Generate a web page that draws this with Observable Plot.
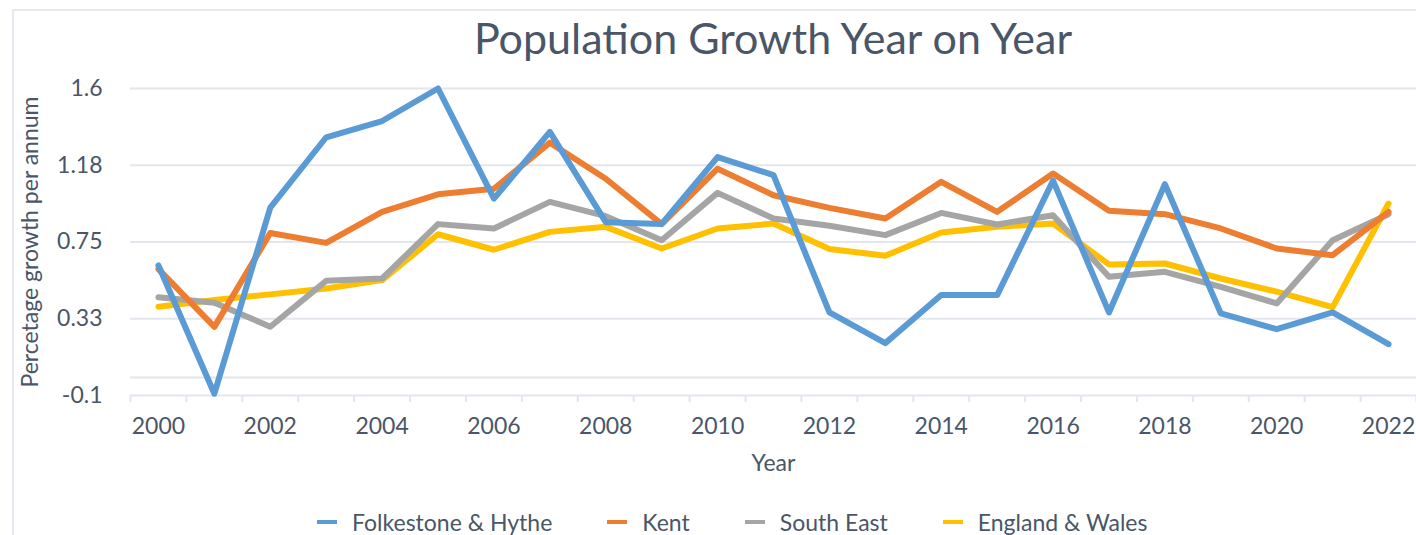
<!DOCTYPE html>
<html>
<head>
<meta charset="utf-8">
<script src="https://cdn.jsdelivr.net/npm/d3@7"></script>
<script src="https://cdn.jsdelivr.net/npm/@observablehq/plot@0.6"></script>
<style>
  html, body { margin: 0; padding: 0; background: #fff; }
  body { width: 1416px; height: 535px; overflow: hidden; font-family: Lato, "Noto Sans", sans-serif; }
  #wrap { position: relative; width: 1416px; height: 535px; }
  #frame { position: absolute; left: 12px; top: 9px; right: -2px; bottom: -2px; border-left: 2px solid #e6e9ef; border-top: 2px solid #e6e9ef; }
  #title { position: absolute; left: 130px; right: 0; top: 11px; text-align: center; font-size: 43px; color: #4a5668; line-height: 54px; }
  #legend { position: absolute; left: 317px; top: 507px; display: flex; align-items: center; font-size: 23px; color: #4a5668; line-height: 30px; }
  .item { display: flex; align-items: center; margin-right: 55px; }
  .sw { width: 20px; height: 4px; margin-right: 15px; }
  #chart { position: absolute; left: 0; top: 0; }
</style>
</head>
<body>
<div id="wrap">
  <div id="frame"></div>
  <div id="chart"></div>
  <div id="title">Population Growth Year on Year</div>
  <div id="legend"></div>
</div>
<script>
const years = [2000,2001,2002,2003,2004,2005,2006,2007,2008,2009,2010,2011,2012,2013,2014,2015,2016,2017,2018,2019,2020,2021,2022];
const seriesNames = ["Folkestone & Hythe", "Kent", "South East", "England & Wales"];
const colors = ["#5b9bd5", "#ed7d31", "#a5a5a5", "#ffc000"];

const folkestone = [0.62,-0.09,0.94,1.33,1.42,1.60,0.99,1.36,0.86,0.85,1.22,1.12,0.36,0.19,0.456,0.456,1.09,0.36,1.07,0.355,0.267,0.36,0.184];
const kent       = [0.60,0.28,0.80,0.745,0.917,1.014,1.045,1.30,1.10,0.849,1.156,1.009,0.939,0.88,1.083,0.917,1.129,0.923,0.904,0.825,0.714,0.677,0.917];
const southEast  = [0.444,0.414,0.281,0.535,0.548,0.849,0.825,0.972,0.893,0.76,1.022,0.88,0.84,0.788,0.911,0.847,0.898,0.557,0.585,0.502,0.41,0.76,0.904];
const englandWales = [0.392,0.429,0.46,0.493,0.539,0.793,0.707,0.806,0.834,0.714,0.825,0.852,0.711,0.674,0.803,0.834,0.852,0.626,0.631,0.548,0.475,0.389,0.963];

const yTicks = [-0.1, 0.325, 0.75, 1.175, 1.6];
const yTickLabels = ["-0.1", "0.33", "0.75", "1.18", "1.6"];
const xTickLabels = [2000,2002,2004,2006,2008,2010,2012,2014,2016,2018,2020,2022];

const allSeries = [folkestone, kent, southEast, englandWales];
const data = [];
// draw order: last series first so Folkestone ends up on top
for (let s = allSeries.length - 1; s >= 0; s--) {
  years.forEach((yr, i) => data.push({year: yr, value: allSeries[s][i], series: seriesNames[s]}));
}
const boundaries = years.map(y => y - 0.5).concat([years[years.length - 1] + 0.5]);

const textColor = "#4a5668";
const gridColor = "#e3e6ed";
const font = "Lato, 'Noto Sans', sans-serif";

const chart = Plot.plot({
  width: 1416,
  height: 535,
  marginTop: 88,
  marginBottom: 140,
  marginLeft: 130,
  marginRight: 0,
  style: {fontFamily: font, fontSize: "23px", color: textColor, background: "transparent", overflow: "visible"},
  x: {domain: [boundaries[0], boundaries[boundaries.length - 1]]},
  y: {domain: [yTicks[0], yTicks[yTicks.length - 1]]},
  color: {domain: seriesNames, range: colors},
  marks: [
    Plot.ruleY(yTicks, {stroke: gridColor, strokeWidth: 2}),
    Plot.ruleY([0], {stroke: gridColor, strokeWidth: 2}),
    Plot.axisX({ticks: boundaries, tickSize: 7, tickFormat: () => "", stroke: gridColor, strokeWidth: 2, label: null}),
    Plot.axisX({ticks: xTickLabels, tickSize: 0, tickPadding: 22, tickFormat: d => String(d), fill: textColor, fontSize: 23, label: null}),
    Plot.axisY({ticks: yTicks, tickSize: 0, tickPadding: 28, tickFormat: (d, i) => yTickLabels[i], fill: textColor, fontSize: 23, label: null}),
    Plot.line(data, {x: "year", y: "value", z: "series", stroke: "series", strokeWidth: 6, strokeLinejoin: "round", strokeLinecap: "round"}),
    Plot.text(["Year"], {frameAnchor: "bottom", dy: 75, fill: textColor, fontSize: 23}),
    Plot.text(["Percetage growth per annum"], {frameAnchor: "left", textAnchor: "middle", dx: -100, rotate: -90, fill: textColor, fontSize: 23})
  ]
});
document.getElementById("chart").appendChild(chart);

const legend = document.getElementById("legend");
seriesNames.forEach((name, i) => {
  const item = document.createElement("div");
  item.className = "item";
  const sw = document.createElement("div");
  sw.className = "sw";
  sw.style.background = colors[i];
  const t = document.createElement("span");
  t.textContent = name;
  item.appendChild(sw);
  item.appendChild(t);
  legend.appendChild(item);
});
</script>
</body>
</html>
